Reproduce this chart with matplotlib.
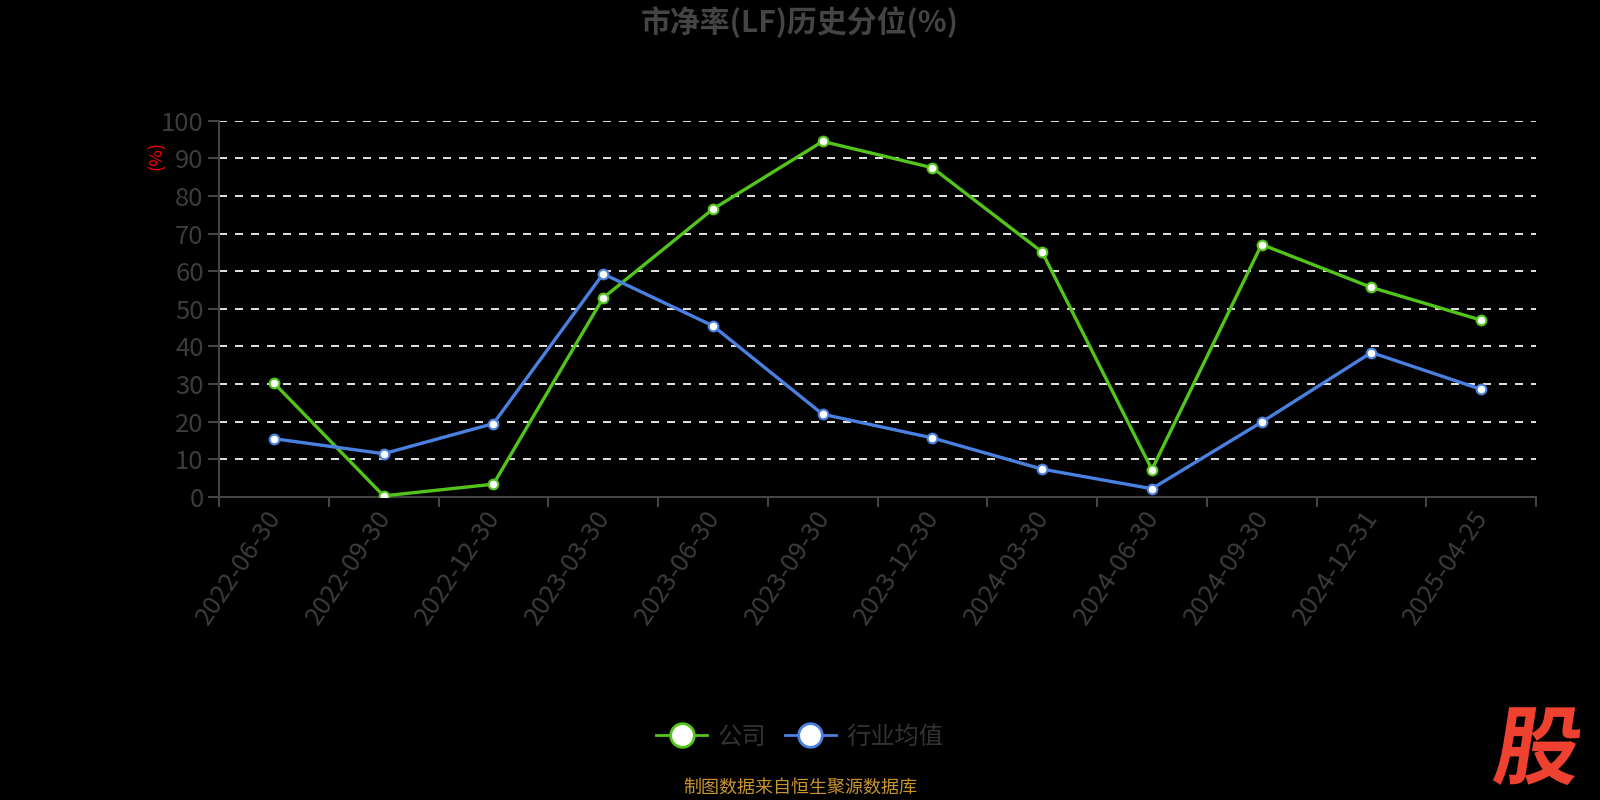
import matplotlib
matplotlib.use("Agg")
import matplotlib.pyplot as plt
from matplotlib.lines import Line2D
from matplotlib.textpath import TextPath
from matplotlib.patches import PathPatch
from matplotlib.font_manager import FontProperties
from matplotlib.transforms import Affine2D, IdentityTransform, ScaledTranslation

plt.rcParams['font.family'] = ['Noto Sans CJK SC', 'DejaVu Sans']

dates = ["2022-06-30", "2022-09-30", "2022-12-30", "2023-03-30", "2023-06-30",
         "2023-09-30", "2023-12-30", "2024-03-30", "2024-06-30", "2024-09-30",
         "2024-12-31", "2025-04-25"]
company = [30.3, 0.3, 3.4, 52.9, 76.5, 94.5, 87.5, 65.1, 7.3, 67.1, 55.7, 47.0]
industry = [15.5, 11.5, 19.5, 59.3, 45.5, 22.0, 15.7, 7.4, 2.2, 19.9, 38.4, 28.6]
yticks = [0, 10, 20, 30, 40, 50, 60, 70, 80, 90, 100]
series_names = ["公司", "行业均值"]

GREEN = "#52c41a"
BLUE = "#4a80e0"
TXT = "#3c3c3c"
AX = "#444444"

fig = plt.figure(figsize=(16, 8), dpi=100, facecolor="black")
ax = fig.add_axes([219/1600, 1-497/800, (1536-219)/1600, (497-120.7)/800])
ax.set_facecolor("black")

x = list(range(len(dates)))
ax.set_xlim(-0.5, len(dates)-0.5)
ax.set_ylim(0, 100)

for v in yticks[1:]:
    ax.axhline(v, color="#dddddd", lw=1.44, linestyle=(0, (4, 4)), zorder=1)

ax.plot(x, company, color=GREEN, lw=2.4, marker="o", ms=7, mfc="white",
        mec=GREEN, mew=1.5, zorder=3, solid_joinstyle="round")
ax.plot(x, industry, color=BLUE, lw=2.4, marker="o", ms=7, mfc="white",
        mec=BLUE, mew=1.5, zorder=4, solid_joinstyle="round")

for s in ["top", "right"]:
    ax.spines[s].set_visible(False)
for s in ["left", "bottom"]:
    ax.spines[s].set_color(AX)
    ax.spines[s].set_linewidth(1.5)

ax.set_xticks([i - 0.5 for i in range(len(dates)+1)])
ax.set_xticklabels([])
ax.tick_params(axis="x", which="major", length=7, width=1.5, color=AX, direction="out")
ax.set_xticks(x, minor=True)
ax.set_xticklabels(dates, minor=True, rotation=56, ha="right", va="top",
                   rotation_mode="anchor", fontsize=18.5, color=TXT)
ax.tick_params(axis="x", which="minor", length=0, pad=6)
shift = ScaledTranslation(-9/100, 0, fig.dpi_scale_trans)
for lbl in ax.get_xticklabels(minor=True):
    lbl.set_transform(lbl.get_transform() + shift)

ax.set_yticks(yticks)
ax.set_yticklabels([str(v) for v in yticks], fontsize=18.5, color=TXT)
ax.tick_params(axis="y", length=8, width=1.5, color=AX, pad=3)

fig.text(157/1600, 1-155/800, "(%)", color="red", fontsize=13, rotation=90,
         ha="center", va="center")

fig.text(0.5, 1-22.5/800, "市净率(LF)历史分位(%)", color="#444444", fontsize=21.5,
         fontweight="bold", ha="center", va="center")

handles = [Line2D([], [], color=GREEN, lw=2, marker="o", ms=17, mfc="white", mec=GREEN, mew=2),
           Line2D([], [], color=BLUE, lw=2, marker="o", ms=17, mfc="white", mec=BLUE, mew=2)]
leg = fig.legend(handles, series_names, loc="center", bbox_to_anchor=(0.5, 1-737/800),
                 ncol=2, frameon=False, fontsize=17.5, labelcolor="#333333",
                 handlelength=2.1, handletextpad=0.45, columnspacing=0.75)

fig.text(0.5, 1-788/800, "制图数据来自恒生聚源数据库", color="#c9942c", fontsize=13,
         ha="center", va="center")

fp = FontProperties(family="Noto Sans CJK SC", weight="black")
tp = TextPath((0, 0), "股", size=86, prop=fp)
bb = tp.get_extents()
tr = Affine2D().translate(-bb.x0, -bb.y0).skew_deg(9, 0).translate(1492, 800-785)
patch = PathPatch(tp, facecolor="#ee4130", edgecolor="none", transform=tr + IdentityTransform())
fig.patches.append(patch)
patch.set_figure(fig)

fig.savefig("out.png", dpi=100, facecolor="black")
